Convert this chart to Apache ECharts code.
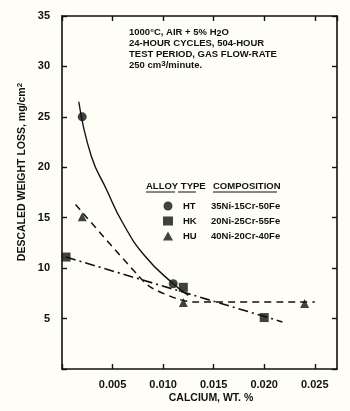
<!DOCTYPE html>
<html>
<head>
<meta charset="utf-8">
<script src="https://cdn.jsdelivr.net/npm/echarts@6/dist/echarts.min.js"></script>
<style>
  html, body { margin: 0; padding: 0; background: #fefdf6; }
  #chart { width: 350px; height: 411px; }
</style>
</head>
<body>
<div id="chart"></div>
<script>
// measured points
var htPoints = [[0.0020, 25.0], [0.0110, 8.45]];
var hkPoints = [[0.0004, 11.1], [0.0120, 8.1], [0.0200, 5.1]];
var huPoints = [[0.0020, 15.1], [0.0120, 6.6], [0.0240, 6.5]];

// hand drawn curves
var htCurve = [[0.00166, 26.5], [0.0029, 21.1], [0.0044, 17.8], [0.0060, 14.5], [0.0082, 11.2], [0.0110, 8.45], [0.0125, 7.3]];
var hkCurve = [[0.0004, 11.1], [0.0218, 4.67]];
var huCurve = [[0.00134, 16.3], [0.0075, 9.3], [0.0088, 8.1], [0.0113, 7.0], [0.0130, 6.65], [0.0250, 6.65]];

var alloyTypes = ['HT', 'HK', 'HU'];
var compositions = ['35Ni-15Cr-50Fe', '20Ni-25Cr-55Fe', '40Ni-20Cr-40Fe'];

var yTicks = { min: 0, max: 35, interval: 5 };
var xTicks = { min: 0, max: 0.0272, interval: 0.005 };

var font = 'Liberation Sans';
var ink = '#111';

var myChart = echarts.init(document.getElementById('chart'));

var axisCommon = {
  axisLine: { show: true, onZero: false, lineStyle: { color: ink, width: 1.6 } },
  axisTick: { show: true, inside: true, length: 5, lineStyle: { color: ink, width: 1.4 } },
  splitLine: { show: false }
};

var option = {
  backgroundColor: '#fefdf6',
  animation: false,
  grid: { left: 62, right: 13, top: 16, bottom: 42 },
  xAxis: [
    Object.assign({
      type: 'value', position: 'bottom',
      min: xTicks.min, max: xTicks.max, interval: xTicks.interval,
      axisLabel: {
        color: ink, fontFamily: font, fontWeight: 'bold', fontSize: 11, margin: 10,
        formatter: function (v) { return v === 0 ? '' : v.toFixed(3); },
        showMaxLabel: false
      }
    }, axisCommon),
    Object.assign({
      type: 'value', position: 'top',
      min: xTicks.min, max: xTicks.max, interval: xTicks.interval,
      axisLabel: { show: false }
    }, axisCommon)
  ],
  yAxis: [
    Object.assign({
      type: 'value', position: 'left',
      min: yTicks.min, max: yTicks.max, interval: yTicks.interval,
      axisLabel: {
        color: ink, fontFamily: font, fontWeight: 'bold', fontSize: 11, margin: 12,
        formatter: function (v) { return v === 0 ? '' : String(v); }
      }
    }, axisCommon),
    Object.assign({
      type: 'value', position: 'right',
      min: yTicks.min, max: yTicks.max, interval: yTicks.interval,
      axisLabel: { show: false }
    }, axisCommon)
  ],
  legend: {
    orient: 'vertical',
    left: 158, top: 196,
    itemWidth: 10, itemHeight: 9, itemGap: 5,
    selectedMode: false,
    data: alloyTypes,
    formatter: function (name) {
      return '{t|' + name + '}{c|' + compositions[alloyTypes.indexOf(name)] + '}';
    },
    textStyle: {
      color: ink, fontFamily: font, fontWeight: 'bold', fontSize: 9.5,
      rich: {
        t: { width: 28, padding: [0, 0, 0, 5], fontFamily: font, fontWeight: 'bold', fontSize: 9.5, color: ink },
        c: { fontFamily: font, fontWeight: 'bold', fontSize: 9.5, color: ink }
      }
    }
  },
  graphic: [
    {
      type: 'text', left: 129, top: 27,
      style: {
        text: '1000°C, AIR + 5% H{s|2}O\n24-HOUR CYCLES, 504-HOUR\nTEST PERIOD, GAS FLOW-RATE\n250 cm{p|3}/minute.',
        fontFamily: font, fontWeight: 'bold', fontSize: 9.5, lineHeight: 11, fill: ink,
        rich: {
          s: { fontFamily: font, fontWeight: 'bold', fontSize: 9, verticalAlign: 'bottom', padding: [3, 0, 0, 0] },
          p: { fontFamily: font, fontWeight: 'bold', fontSize: 8, padding: [0, 0, 4, 0] }
        }
      }
    },
    {
      type: 'text', x: 146, y: 186,
      style: {
        text: 'ALLOY TYPE', fontFamily: font, fontWeight: 'bold', fontSize: 9.5, fill: ink,
        verticalAlign: 'middle'
      }
    },
    {
      type: 'text', x: 213, y: 186,
      style: {
        text: 'COMPOSITION', fontFamily: font, fontWeight: 'bold', fontSize: 9.5, fill: ink,
        verticalAlign: 'middle'
      }
    },
    { type: 'line', shape: { x1: 146, y1: 192, x2: 175, y2: 192 }, style: { stroke: ink, lineWidth: 1 } },
    { type: 'line', shape: { x1: 178, y1: 192, x2: 196, y2: 192 }, style: { stroke: ink, lineWidth: 1 } },
    { type: 'line', shape: { x1: 213, y1: 192, x2: 277, y2: 192 }, style: { stroke: ink, lineWidth: 1 } },
    {
      type: 'text', x: 22, y: 172, rotation: Math.PI / 2,
      style: {
        text: 'DESCALED WEIGHT LOSS, mg/cm{p|2}', fontFamily: font, fontWeight: 'bold', fontSize: 10.5, fill: ink,
        align: 'center', verticalAlign: 'middle',
        rich: { p: { fontFamily: font, fontWeight: 'bold', fontSize: 8, padding: [0, 0, 5, 0] } }
      }
    },
    {
      type: 'text', x: 211, y: 398,
      style: {
        text: 'CALCIUM, WT. %', fontFamily: font, fontWeight: 'bold', fontSize: 10.5, fill: ink,
        align: 'center', verticalAlign: 'middle'
      }
    }
  ],
  series: [
    {
      name: 'HT-curve', type: 'line', smooth: 0.5, showSymbol: false, silent: true,
      data: htCurve, lineStyle: { color: ink, width: 1.4, type: 'solid' }
    },
    {
      name: 'HK-curve', type: 'line', showSymbol: false, silent: true,
      data: hkCurve, lineStyle: { color: ink, width: 1.6, type: [10, 4, 2, 4] }
    },
    {
      name: 'HU-curve', type: 'line', smooth: 0.3, showSymbol: false, silent: true,
      data: huCurve, lineStyle: { color: ink, width: 1.5, type: [7, 5] }
    },
    { name: 'HT', type: 'scatter', symbol: 'circle', symbolSize: 9, data: htPoints, itemStyle: { color: ink }, z: 5 },
    { name: 'HK', type: 'scatter', symbol: 'rect', symbolSize: 9, data: hkPoints, itemStyle: { color: ink }, z: 5 },
    { name: 'HU', type: 'scatter', symbol: 'triangle', symbolSize: 9, data: huPoints, itemStyle: { color: ink }, z: 5 }
  ]
};

myChart.setOption(option);
window.addEventListener('resize', function () {
  myChart.resize();
});
</script>
</body>
</html>
